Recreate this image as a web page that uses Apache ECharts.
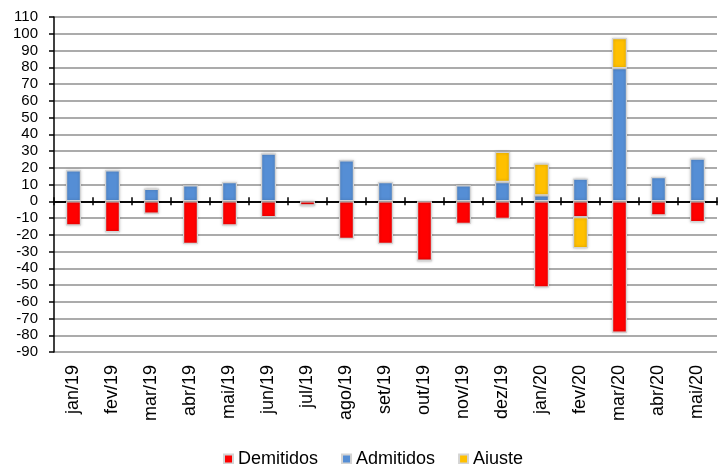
<!DOCTYPE html>
<html>
<head>
<meta charset="utf-8">
<script src="https://cdn.jsdelivr.net/npm/echarts@6/dist/echarts.min.js"></script>
<style>
  html, body { margin: 0; padding: 0; background: #fff; }
  #chart { width: 718px; height: 464px; }
</style>
</head>
<body>
<div id="chart"></div>
<script>
const months = ["jan/19", "fev/19", "mar/19", "abr/19", "mai/19", "jun/19", "jul/19", "ago/19",
  "set/19", "out/19", "nov/19", "dez/19", "jan/20", "fev/20", "mar/20", "abr/20", "mai/20"];

const demitidos = [-14.5, -18.5, -7.5, -25.5, -14.5, -9.5, -2.5, -22.5,
  -25.5, -35.5, -13.5, -10.5, -51.5, -9.5, -78.5, -8.5, -12.5];
const admitidos = [18.5, 18.5, 7.5, 9.5, 11.5, 28.5, 0, 24.5,
  11.5, 0, 9.5, 11.5, 3.5, 13.5, 79.5, 14.5, 25.5];
const ajuste = ["-", "-", "-", "-", "-", "-", "-", "-",
  "-", "-", "-", "18", "19", "-18.5", "18", "-", "-"];

const font = "Liberation Sans";
const chart = echarts.init(document.getElementById("chart"));

const barStyle = (color) => ({
  color: color,
  borderColor: "#d4d4d4",
  borderWidth: 1.2,
  shadowBlur: 3,
  shadowColor: "rgba(0,0,0,0.25)"
});

chart.setOption({
  animation: false,
  textStyle: { fontFamily: font },
  grid: { left: 54, right: 1, top: 17, bottom: 112 },
  legend: {
    left: 218,
    top: 445,
    itemWidth: 9,
    itemHeight: 9,
    itemGap: 23,
    icon: "rect",
    textStyle: { fontFamily: font, fontSize: 18, color: "#000" },
    data: ["Demitidos", "Admitidos", "Ajuste"]
  },
  xAxis: [
    {
      type: "category",
      data: months,
      position: "bottom",
      axisLine: { onZero: true, onZeroAxisIndex: 0, lineStyle: { color: "#000", width: 1.5 } },
      axisTick: { show: true, interval: 0, length: 4, lineStyle: { color: "#000", width: 1.5 } },
      axisLabel: { show: false, interval: 0 }
    },
    {
      type: "category",
      data: months,
      position: "bottom",
      axisLine: { onZero: true, onZeroAxisIndex: 0, lineStyle: { color: "#000", width: 1.5 } },
      axisTick: { show: true, interval: 0, inside: true, length: 4, lineStyle: { color: "#000", width: 1.5 } },
      axisLabel: { show: false, interval: 0 }
    },
    {
      type: "category",
      data: months,
      position: "bottom",
      axisLine: { show: false, onZero: false },
      axisTick: { show: false },
      axisLabel: {
        interval: 0,
        rotate: 90,
        margin: 13,
        fontFamily: font,
        fontSize: 18,
        color: "#000"
      }
    }
  ],
  yAxis: {
    type: "value",
    min: -90,
    max: 110,
    interval: 10,
    axisLine: { show: true, lineStyle: { color: "#000", width: 1.5 } },
    axisTick: { show: true, length: 5, lineStyle: { color: "#000", width: 1.5 } },
    axisLabel: { margin: 16, fontFamily: font, fontSize: 15, color: "#000" },
    splitLine: { lineStyle: { color: "#8f8f8f", width: 1.5 } }
  },
  series: [
    {
      name: "Demitidos",
      type: "bar",
      stack: "total",
      barWidth: 15,
      data: demitidos,
      itemStyle: barStyle("#ff0000")
    },
    {
      name: "Admitidos",
      type: "bar",
      stack: "total",
      barWidth: 15,
      data: admitidos,
      itemStyle: barStyle("#558ed5")
    },
    {
      name: "Ajuste",
      type: "bar",
      stack: "total",
      barWidth: 15,
      data: ajuste,
      itemStyle: barStyle("#ffc000")
    }
  ]
});
</script>
</body>
</html>
